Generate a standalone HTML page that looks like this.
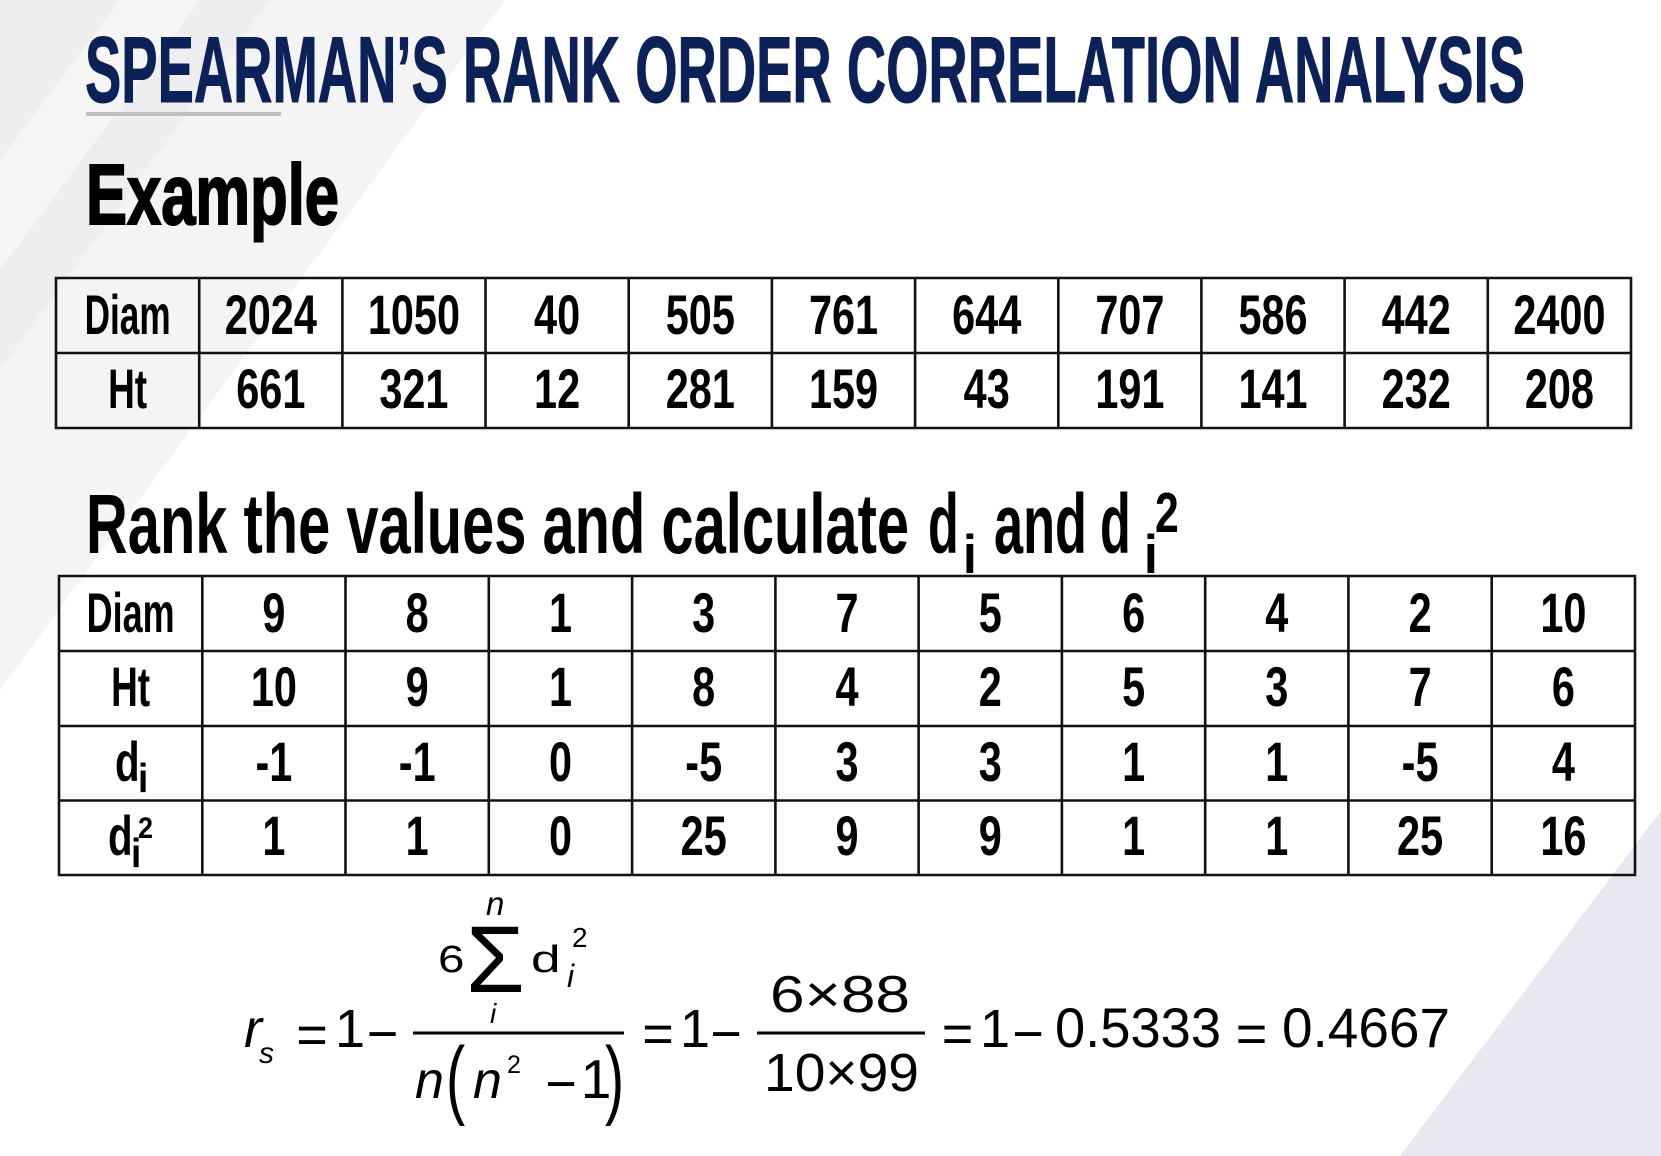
<!DOCTYPE html>
<html>
<head>
<meta charset="utf-8">
<style>
html,body{margin:0;padding:0;background:#fff;}
svg{display:block;}
</style>
</head>
<body>
<svg width="1661" height="1156" viewBox="0 0 1661 1156" xmlns="http://www.w3.org/2000/svg" font-family="'Liberation Sans', Arial, sans-serif">
  <!-- background -->
  <rect x="0" y="0" width="1661" height="1156" fill="#ffffff"/>
  <polygon points="0,0 505,0 0,690" fill="#f4f4f4"/>
  <polygon points="0,0 270,0 0,370" fill="#eeeeee"/>
  <polygon points="120,0 200,0 0,270 0,160" fill="#f6f6f6"/>
  <polygon points="1661,811 1400,1156 1661,1156" fill="#e8e8f0"/>

  <!-- title -->
  <text x="85" y="102" font-size="94" font-weight="bold" fill="#0d2159" stroke="#0d2159" stroke-width="1" textLength="1440" lengthAdjust="spacingAndGlyphs">SPEARMAN’S RANK ORDER CORRELATION ANALYSIS</text>
  <rect x="86" y="112" width="195" height="4" fill="#bfbfbf"/>

  <!-- Example -->
  <text x="86" y="224" font-size="85" font-weight="bold" fill="#000" stroke="#000" stroke-width="2" textLength="253" lengthAdjust="spacingAndGlyphs">Example</text>

  <!-- Table 1 lines -->
  <path d="M56 278H1631M56 353H1631M56 428H1631
           M56 278V428M199.2 278V428M342.4 278V428M485.5 278V428M628.7 278V428M771.9 278V428
           M915.1 278V428M1058.3 278V428M1201.4 278V428M1344.6 278V428M1487.8 278V428M1631 278V428"
        stroke="#111" stroke-width="2.6" fill="none" stroke-linecap="square"/>

  <g font-size="56" font-weight="bold" fill="#000" text-anchor="middle">
    <text x="127.6" y="334" textLength="86" lengthAdjust="spacingAndGlyphs">Diam</text>
    <text x="127.6" y="408" textLength="39" lengthAdjust="spacingAndGlyphs">Ht</text>

    <text transform="translate(270.8,334) scale(0.74,1)">2024</text>
    <text transform="translate(413.9,334) scale(0.74,1)">1050</text>
    <text transform="translate(557.1,334) scale(0.74,1)">40</text>
    <text transform="translate(700.3,334) scale(0.74,1)">505</text>
    <text transform="translate(843.5,334) scale(0.74,1)">761</text>
    <text transform="translate(986.7,334) scale(0.74,1)">644</text>
    <text transform="translate(1129.9,334) scale(0.74,1)">707</text>
    <text transform="translate(1273.0,334) scale(0.74,1)">586</text>
    <text transform="translate(1416.2,334) scale(0.74,1)">442</text>
    <text transform="translate(1559.4,334) scale(0.74,1)">2400</text>

    <text transform="translate(270.8,408) scale(0.74,1)">661</text>
    <text transform="translate(413.9,408) scale(0.74,1)">321</text>
    <text transform="translate(557.1,408) scale(0.74,1)">12</text>
    <text transform="translate(700.3,408) scale(0.74,1)">281</text>
    <text transform="translate(843.5,408) scale(0.74,1)">159</text>
    <text transform="translate(986.7,408) scale(0.74,1)">43</text>
    <text transform="translate(1129.9,408) scale(0.74,1)">191</text>
    <text transform="translate(1273.0,408) scale(0.74,1)">141</text>
    <text transform="translate(1416.2,408) scale(0.74,1)">232</text>
    <text transform="translate(1559.4,408) scale(0.74,1)">208</text>
  </g>

  <!-- Heading 2 -->
  <g font-weight="bold" fill="#000">
    <text x="86" y="553" font-size="84" textLength="823" lengthAdjust="spacingAndGlyphs">Rank the values and calculate</text>
    <text transform="translate(928,553) scale(0.6,1)" font-size="84">d</text>
    <text transform="translate(963,573) scale(0.9,1)" font-size="55">i</text>
    <text x="994" y="553" font-size="84" textLength="93" lengthAdjust="spacingAndGlyphs">and</text>
    <text transform="translate(1100,553) scale(0.6,1)" font-size="84">d</text>
    <text transform="translate(1144,573) scale(0.9,1)" font-size="55">i</text>
    <text transform="translate(1155,532) scale(0.75,1)" font-size="57">2</text>
  </g>

  <!-- Table 2 lines -->
  <path d="M59 576H1635M59 651H1635M59 726H1635M59 800.5H1635M59 875H1635
           M59 576V875M202.3 576V875M345.5 576V875M488.8 576V875M632.1 576V875M775.4 576V875
           M918.6 576V875M1061.9 576V875M1205.2 576V875M1348.4 576V875M1491.7 576V875M1635 576V875"
        stroke="#111" stroke-width="2.6" fill="none" stroke-linecap="square"/>

  <g font-size="56" font-weight="bold" fill="#000" text-anchor="middle">
    <text x="130.6" y="632" textLength="88" lengthAdjust="spacingAndGlyphs">Diam</text>
    <text x="130.6" y="706" textLength="39" lengthAdjust="spacingAndGlyphs">Ht</text>

    <text transform="translate(273.9,632) scale(0.74,1)">9</text>
    <text transform="translate(417.2,632) scale(0.74,1)">8</text>
    <text transform="translate(560.5,632) scale(0.74,1)">1</text>
    <text transform="translate(703.7,632) scale(0.74,1)">3</text>
    <text transform="translate(847.0,632) scale(0.74,1)">7</text>
    <text transform="translate(990.3,632) scale(0.74,1)">5</text>
    <text transform="translate(1133.6,632) scale(0.74,1)">6</text>
    <text transform="translate(1276.8,632) scale(0.74,1)">4</text>
    <text transform="translate(1420.1,632) scale(0.74,1)">2</text>
    <text transform="translate(1563.4,632) scale(0.74,1)">10</text>

    <text transform="translate(273.9,706) scale(0.74,1)">10</text>
    <text transform="translate(417.2,706) scale(0.74,1)">9</text>
    <text transform="translate(560.5,706) scale(0.74,1)">1</text>
    <text transform="translate(703.7,706) scale(0.74,1)">8</text>
    <text transform="translate(847.0,706) scale(0.74,1)">4</text>
    <text transform="translate(990.3,706) scale(0.74,1)">2</text>
    <text transform="translate(1133.6,706) scale(0.74,1)">5</text>
    <text transform="translate(1276.8,706) scale(0.74,1)">3</text>
    <text transform="translate(1420.1,706) scale(0.74,1)">7</text>
    <text transform="translate(1563.4,706) scale(0.74,1)">6</text>

    <text transform="translate(273.9,781) scale(0.74,1)">-1</text>
    <text transform="translate(417.2,781) scale(0.74,1)">-1</text>
    <text transform="translate(560.5,781) scale(0.74,1)">0</text>
    <text transform="translate(703.7,781) scale(0.74,1)">-5</text>
    <text transform="translate(847.0,781) scale(0.74,1)">3</text>
    <text transform="translate(990.3,781) scale(0.74,1)">3</text>
    <text transform="translate(1133.6,781) scale(0.74,1)">1</text>
    <text transform="translate(1276.8,781) scale(0.74,1)">1</text>
    <text transform="translate(1420.1,781) scale(0.74,1)">-5</text>
    <text transform="translate(1563.4,781) scale(0.74,1)">4</text>

    <text transform="translate(273.9,855) scale(0.74,1)">1</text>
    <text transform="translate(417.2,855) scale(0.74,1)">1</text>
    <text transform="translate(560.5,855) scale(0.74,1)">0</text>
    <text transform="translate(703.7,855) scale(0.74,1)">25</text>
    <text transform="translate(847.0,855) scale(0.74,1)">9</text>
    <text transform="translate(990.3,855) scale(0.74,1)">9</text>
    <text transform="translate(1133.6,855) scale(0.74,1)">1</text>
    <text transform="translate(1276.8,855) scale(0.74,1)">1</text>
    <text transform="translate(1420.1,855) scale(0.74,1)">25</text>
    <text transform="translate(1563.4,855) scale(0.74,1)">16</text>
  </g>
  <!-- d_i and d_i^2 row labels -->
  <g font-weight="bold" fill="#000">
    <text transform="translate(115,781) scale(0.72,1)" font-size="56">d</text>
    <text transform="translate(138,792) scale(0.9,1)" font-size="41">i</text>
    <text transform="translate(108,855) scale(0.72,1)" font-size="56">d</text>
    <text transform="translate(131,867) scale(0.9,1)" font-size="41">i</text>
    <text transform="translate(138,838) scale(0.9,1)" font-size="30">2</text>
  </g>

  <!-- Formula -->
  <g fill="#000" font-weight="normal">
    <text x="244" y="1047" font-size="54" font-style="italic">r</text>
    <text x="259" y="1063" font-size="30" font-style="italic">s</text>
    <text x="312" y="1053" font-size="54" text-anchor="middle">=</text>
    <text x="350" y="1047" font-size="54" text-anchor="middle">1</text>
    <text x="382.5" y="1052" font-size="54" text-anchor="middle">−</text>

    <rect x="413" y="1031.5" width="211" height="3" fill="#000"/>
    <text transform="translate(438,972) scale(1.25,1)" font-size="38">6</text>
    <text x="466" y="992" font-size="95">Σ</text>
    <text x="486" y="915" font-size="33" font-style="italic">n</text>
    <text x="490" y="1023" font-size="28" font-style="italic">i</text>
    <text transform="translate(531,972) scale(1.4,1)" font-size="38">d</text>
    <text x="572" y="947" font-size="28">2</text>
    <text x="567" y="987" font-size="32" font-style="italic">i</text>

    <text x="415" y="1098" font-size="52" font-style="italic">n</text>
    <text transform="translate(446,1108) scale(1.15,1.74)" font-size="50">(</text>
    <text x="473" y="1098" font-size="52" font-style="italic">n</text>
    <text x="507" y="1073" font-size="25">2</text>
    <text x="561" y="1102" font-size="54" text-anchor="middle">−</text>
    <text x="596" y="1098" font-size="55" text-anchor="middle">1</text>
    <text transform="translate(605,1108) scale(1.15,1.74)" font-size="50">)</text>

    <text x="658" y="1052" font-size="54" text-anchor="middle">=</text>
    <text x="695" y="1047" font-size="54" text-anchor="middle">1</text>
    <text x="726" y="1052" font-size="54" text-anchor="middle">−</text>

    <rect x="757" y="1031.5" width="168" height="3" fill="#000"/>
    <text x="770" y="1012" font-size="52" textLength="140" lengthAdjust="spacingAndGlyphs">6×88</text>
    <text x="764" y="1091" font-size="54" textLength="155" lengthAdjust="spacingAndGlyphs">10×99</text>

    <text x="957.5" y="1052" font-size="54" text-anchor="middle">=</text>
    <text x="995" y="1047" font-size="54" text-anchor="middle">1</text>
    <text x="1028" y="1052" font-size="54" text-anchor="middle">−</text>
    <text x="1055" y="1047" font-size="56" textLength="166" lengthAdjust="spacingAndGlyphs">0.5333</text>
    <text x="1251.5" y="1052" font-size="54" text-anchor="middle">=</text>
    <text x="1282" y="1047" font-size="56" textLength="168" lengthAdjust="spacingAndGlyphs">0.4667</text>
  </g>
</svg>
</body>
</html>
